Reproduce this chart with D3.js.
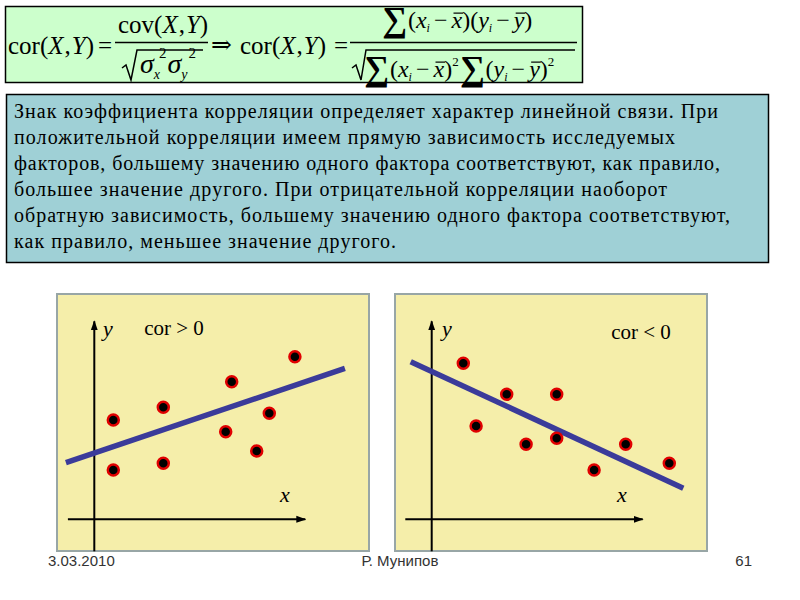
<!DOCTYPE html>
<html><head><meta charset="utf-8">
<script src="https://cdn.jsdelivr.net/npm/d3@7"></script>
<style>body{margin:0;background:#fff}svg{display:block}</style>
</head><body>
<script>
// ---- data ----
const posX = [0.95, 0.95, 3.45, 3.45, 6.87, 6.57, 10.03, 8.75, 8.12];
const posY = [4.97, 2.47, 5.6, 2.8, 6.88, 4.38, 8.13, 5.3, 3.42];
const posLineX = [-1.42, 12.53];
const posLineY = [2.83, 7.55];
const negX = [1.58, 2.22, 3.75, 4.72, 6.25, 6.25, 8.12, 9.7, 11.88];
const negY = [7.8, 4.67, 6.25, 3.75, 6.25, 4.05, 2.47, 3.75, 2.8];
const negLineX = [-1.05, 12.58];
const negLineY = [7.88, 1.55];
const panelTitles = ["cor > 0", "cor < 0"];
const textLines = [
 "Знак коэффициента корреляции определяет характер линейной связи. При",
 "положительной корреляции имеем прямую зависимость исследуемых",
 "факторов, большему значению одного фактора соответствуют, как правило,",
 "большее значение другого. При отрицательной корреляции наоборот",
 "обратную зависимость, большему значению одного фактора соответствуют,",
 "как правило, меньшее значение другого."
];
const textLineEnds = [718, 675, 720, 667, 730, 396];
const footer = ["3.03.2010", "Р. Мунипов", "61"];

const svg = d3.select("body").append("svg").attr("width", 800).attr("height", 600);
const defs = svg.append("defs");
defs.append("marker").attr("id","arr").attr("viewBox","0 0 10 10").attr("refX",9).attr("refY",5)
  .attr("markerWidth",5).attr("markerHeight",5).attr("orient","auto-start-reverse")
  .append("path").attr("d","M0,1.5 L10,5 L0,8.5 Z").attr("fill","#000");

const SERIF = "'Liberation Serif', 'Times New Roman', serif";

// ---- formula box ----
svg.append("rect").attr("x",5.5).attr("y",6.5).attr("width",577).attr("height",76)
  .attr("fill","#ccffcc").attr("stroke","#000").attr("stroke-width",1.5);
const F = svg.append("g").attr("font-family",SERIF).attr("fill","#000");

function row(pieces, x0, y0){
  let x = x0;
  pieces.forEach(p=>{
    x += (p.gap||0);
    const t = F.append("text").attr("x",x).attr("y",y0 + (p.dy||0))
      .attr("font-size",p.size).text(p.t);
    if(p.it) t.attr("font-style","italic");
    if(p.b) t.attr("font-weight","bold");
    if(p.ff) t.attr("font-family",p.ff);
    const w = t.node().getComputedTextLength();
    if(p.over){
      const oy = y0 - p.size*0.62;
      F.append("line").attr("x1",x+2).attr("x2",x+w+1).attr("y1",oy).attr("y2",oy)
        .attr("stroke","#000").attr("stroke-width",1.2);
    }
    x += w + (p.after||0);
  });
  return x;
}
function fnXY(name, size){
  return [
    {t:name+"(", size:size},
    {t:"X", size:size, it:true, after:1},
    {t:",", size:size, after:1},
    {t:"Y", size:size, it:true},
    {t:")", size:size}
  ];
}
row(fnXY("cor", 25), 8, 54);
F.append("text").attr("x",98).attr("y",54).attr("font-size",25).text("=");
// first fraction
row(fnXY("cov", 25), 118, 33);
F.append("line").attr("x1",115).attr("x2",208).attr("y1",42.5).attr("y2",42.5).attr("stroke","#000").attr("stroke-width",1.4);
F.append("path").attr("d","M122,68 L126,65 L131,80 L137,50 L203,50").attr("fill","none").attr("stroke","#000").attr("stroke-width",1.5);
row([
  {t:"σ", size:28, it:true, gap:2},
  {t:"x", size:14, it:true, dy:6},
  {t:"2", size:15, dy:-15, gap:-1, after:1},
  {t:"σ", size:28, it:true},
  {t:"y", size:14, it:true, dy:6},
  {t:"2", size:15, dy:-15, gap:1}
], 138, 73);
F.append("text").attr("x",211).attr("y",53).attr("font-size",25).attr("font-family","'DejaVu Serif', serif").text("⇒");
row(fnXY("cor", 25), 240, 54);
F.append("text").attr("x",334).attr("y",54).attr("font-size",25).text("=");
// second fraction
row([
  {t:"∑", size:35, b:true, dy:3, after:1},
  {t:"(", size:24},
  {t:"x", size:24, it:true},
  {t:"i", size:12, it:true, dy:4, after:2},
  {t:"−", size:24, after:4, gap:2},
  {t:"x", size:24, it:true, over:true},
  {t:")(", size:24},
  {t:"y", size:24, it:true},
  {t:"i", size:12, it:true, dy:4, after:2},
  {t:"−", size:24, after:4, gap:2},
  {t:"y", size:24, it:true, over:true},
  {t:")", size:24}
], 382, 28);
F.append("line").attr("x1",350).attr("x2",577).attr("y1",42.5).attr("y2",42.5).attr("stroke","#000").attr("stroke-width",1.4);
F.append("path").attr("d","M352,68 L356,65 L361,80 L366,50 L575,50").attr("fill","none").attr("stroke","#000").attr("stroke-width",1.5);
row([
  {t:"∑", size:35, b:true, dy:3, after:1},
  {t:"(", size:24},
  {t:"x", size:24, it:true},
  {t:"i", size:12, it:true, dy:4, after:2},
  {t:"−", size:24, after:4, gap:2},
  {t:"x", size:24, it:true, over:true},
  {t:")", size:24},
  {t:"2", size:13, dy:-11, after:1},
  {t:"∑", size:35, b:true, dy:3, after:1},
  {t:"(", size:24},
  {t:"y", size:24, it:true},
  {t:"i", size:12, it:true, dy:4, after:2},
  {t:"−", size:24, after:4, gap:2},
  {t:"y", size:24, it:true, over:true},
  {t:")", size:24},
  {t:"2", size:13, dy:-11}
], 364, 77);

// ---- text box ----
svg.append("rect").attr("x",6.5).attr("y",94.5).attr("width",762).attr("height",168)
  .attr("fill","#9fd0d6").attr("stroke","#000").attr("stroke-width",1.5);
svg.append("g").selectAll("text").data(textLines).join("text")
  .attr("x",14).attr("y",(d,i)=>118 + i*26)
  .attr("font-family",SERIF).attr("font-size",20).attr("fill","#000")
  .attr("textLength",(d,i)=>textLineEnds[i]-14).attr("lengthAdjust","spacing")
  .text(d=>d);

// ---- scatter panels ----
const panels = [
  {px:57, ox:94.3, xs:posX, ys:posY, lx:posLineX, ly:posLineY, title:panelTitles[0], tx:174, ty:335, yl:[108,336], xl:[285,502]},
  {px:395, ox:431.7, xs:negX, ys:negY, lx:negLineX, ly:negLineY, title:panelTitles[1], tx:641, ty:339, yl:[447,336], xl:[622,502]}
];
panels.forEach(p=>{
  const g = svg.append("g");
  g.append("rect").attr("x",p.px).attr("y",294).attr("width",312).attr("height",257)
    .attr("fill","#f5eeaa").attr("stroke","#98a6a6").attr("stroke-width",2);
  const x = d3.scaleLinear().domain([0,10]).range([p.ox, p.ox+200]);
  const y = d3.scaleLinear().domain([0,10]).range([519.3, 319.3]);
  g.append("line").attr("x1",x(-1.32)).attr("x2",x(10.55)).attr("y1",y(0)).attr("y2",y(0))
    .attr("stroke","#000").attr("stroke-width",2).attr("marker-end","url(#arr)");
  g.append("line").attr("x1",x(0)).attr("x2",x(0)).attr("y1",y(-1.6)).attr("y2",y(9.9))
    .attr("stroke","#000").attr("stroke-width",2).attr("marker-end","url(#arr)");
  g.append("line").attr("x1",x(p.lx[0])).attr("y1",y(p.ly[0])).attr("x2",x(p.lx[1])).attr("y2",y(p.ly[1]))
    .attr("stroke","#3b3b9a").attr("stroke-width",5.5);
  g.selectAll("circle").data(p.xs.map((v,i)=>[v,p.ys[i]])).join("circle")
    .attr("cx",d=>x(d[0])).attr("cy",d=>y(d[1])).attr("r",5.5)
    .attr("fill","#000").attr("stroke","#e00000").attr("stroke-width",2.5);
  g.append("text").attr("x",p.tx).attr("y",p.ty).attr("text-anchor","middle").attr("font-family",SERIF).attr("font-size",21).text(p.title);
  g.append("text").attr("x",p.yl[0]).attr("y",p.yl[1]).attr("text-anchor","middle").attr("font-family",SERIF).attr("font-style","italic").attr("font-size",22).text("y");
  g.append("text").attr("x",p.xl[0]).attr("y",p.xl[1]).attr("text-anchor","middle").attr("font-family",SERIF).attr("font-style","italic").attr("font-size",22).text("x");
});

// ---- footer ----
const ft = svg.append("g").attr("font-family","'Liberation Sans', Arial, sans-serif").attr("font-size",15).attr("fill","#333");
ft.append("text").attr("x",48).attr("y",566).text(footer[0]);
ft.append("text").attr("x",400).attr("y",566).attr("text-anchor","middle").text(footer[1]);
ft.append("text").attr("x",752).attr("y",566).attr("text-anchor","end").text(footer[2]);
</script>
</body></html>
